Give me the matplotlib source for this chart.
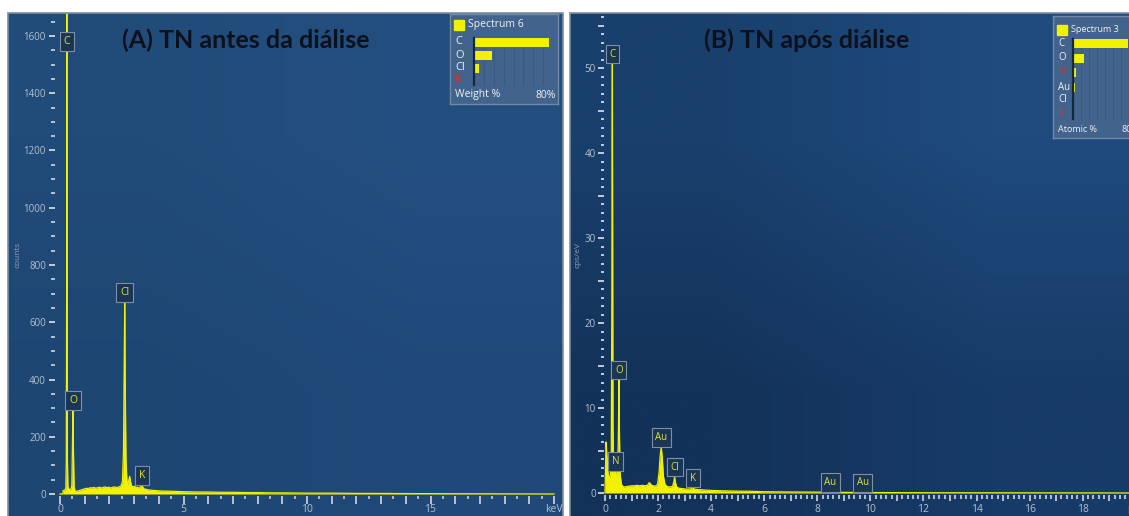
import numpy as np
import matplotlib
matplotlib.use("Agg")
import matplotlib.pyplot as plt
from matplotlib.patches import Rectangle
from matplotlib.ticker import FixedLocator, FuncFormatter
import matplotlib.transforms as mtransforms

# ---------------- data ----------------
title_a = "(A) TN antes da diálise"
title_b = "(B) TN após diálise"

# Panel A spectrum (keV, counts)
energy_a = [0.00, 0.11, 0.13, 0.20, 0.235, 0.255, 0.268, 0.277, 0.286, 0.30,
            0.32, 0.36, 0.40, 0.44, 0.48, 0.505, 0.525, 0.545, 0.57, 0.62,
            0.70, 0.78, 0.85, 0.92, 1.00, 1.08, 1.15, 1.22, 1.30, 1.38,
            1.45, 1.52, 1.60, 1.68, 1.75, 1.82, 1.90, 1.98, 2.05, 2.12,
            2.20, 2.28, 2.35, 2.42, 2.48, 2.53, 2.57, 2.60, 2.62, 2.64,
            2.67, 2.71, 2.75, 2.79, 2.82, 2.85, 2.90, 2.96, 3.02, 3.08,
            3.14, 3.20, 3.26, 3.31, 3.36, 3.42, 3.50, 3.60, 3.70, 3.85,
            4.00, 4.20, 4.40, 4.70, 5.00, 5.50, 6.00, 6.50, 7.00, 7.50,
            8.00, 8.50, 9.00, 10.0, 11.0, 12.0, 13.0, 14.0, 16.0, 20.0]
counts_a = [0, 0, 12, 14, 20, 120, 700, 1800, 700, 120,
            25, 18, 15, 16, 30, 180, 293, 150, 25, 8,
            10, 12, 14, 16, 18, 20, 19, 22, 21, 23,
            20, 22, 24, 21, 23, 25, 22, 24, 21, 23,
            25, 22, 24, 26, 30, 45, 150, 450, 670, 400,
            120, 45, 35, 50, 62, 45, 28, 25, 27, 22,
            24, 20, 25, 32, 22, 17, 16, 14, 13, 12,
            11, 10, 10, 9, 8, 7, 7, 6, 6, 5,
            5, 4, 4, 3, 3, 2, 2, 1.5, 1, 0]
peak_labels_a = ["C", "O", "Cl", "K"]
peak_energy_a = [0.277, 0.525, 2.62, 3.31]
legend_elements_a = ["C", "O", "Cl", "K"]
legend_values_a = [76, 18, 5.5, 0.5]

# Panel B spectrum (keV, cps/eV)
energy_b = [0.00, 0.02, 0.04, 0.06, 0.09, 0.12, 0.16, 0.20, 0.235, 0.255,
            0.268, 0.277, 0.286, 0.30, 0.32, 0.35, 0.39, 0.43, 0.47, 0.50,
            0.525, 0.545, 0.57, 0.62, 0.70, 0.80, 0.90, 1.00, 1.10, 1.20,
            1.30, 1.40, 1.50, 1.60, 1.66, 1.70, 1.75, 1.82, 1.90, 1.98,
            2.04, 2.08, 2.12, 2.16, 2.20, 2.26, 2.35, 2.45, 2.55, 2.60,
            2.62, 2.65, 2.70, 2.80, 2.95, 3.10, 3.25, 3.31, 3.38, 3.50,
            3.75, 4.00, 4.50, 5.00, 5.50, 6.00, 7.00, 8.00, 9.00, 10.0,
            12.0, 15.0, 20.0]
counts_b = [0, 3.0, 6.0, 5.0, 3.5, 2.2, 1.8, 2.0, 4.0, 20,
            42, 50.5, 35, 8, 3.5, 2.4, 2.6, 2.2, 2.3, 6,
            13.3, 7, 2.2, 1.0, 0.7, 0.75, 0.8, 0.85, 0.85, 0.9,
            0.85, 0.9, 0.85, 0.9, 1.2, 1.15, 0.9, 0.85, 0.8, 1.0,
            2.5, 4.5, 5.4, 4.0, 2.0, 1.0, 0.75, 0.7, 0.8, 1.4,
            1.9, 1.3, 0.7, 0.55, 0.5, 0.45, 0.5, 0.6, 0.45, 0.4,
            0.35, 0.3, 0.25, 0.22, 0.2, 0.15, 0.12, 0.1, 0.07, 0.05,
            0.03, 0.02, 0]
peak_labels_b = ["C", "N", "O", "Au", "Cl", "K", "Au", "Au"]
peak_energy_b = [0.277, 0.392, 0.525, 2.12, 2.62, 3.31, 8.49, 9.71]
legend_elements_b = ["C", "O", "N", "Au", "Cl", "K"]
legend_values_b = [69, 14, 4, 2, 1.5, 0.3]

# ---------------- style ----------------
W, H = 1129, 516
YEL = "#f2f200"
TICK = "#c3ccd8"
LBL = "#b4c0ce"
SMALL = "Open Sans"

fig = plt.figure(figsize=(W / 100, H / 100), dpi=100)
fig.patch.set_facecolor("white")


def px_axes(x0, y0, x1, y1):
    return fig.add_axes([x0 / W, 1 - y1 / H, (x1 - x0) / W, (y1 - y0) / H])


def gradient_bg(ax, tl, tr, bl, br):
    c = np.array([[matplotlib.colors.to_rgb(tl), matplotlib.colors.to_rgb(tr)],
                  [matplotlib.colors.to_rgb(bl), matplotlib.colors.to_rgb(br)]])
    ax.imshow(c, extent=(0, 1, 0, 1), transform=ax.transAxes, aspect="auto",
              interpolation="bilinear", zorder=0)


def setup_panel(ax, box, x0px, xscale, y0px, yscale, yaxis_px, xaxis_px):
    (bx0, by0, bx1, by1) = box
    ax.set_xlim((bx0 - x0px) / xscale, (bx1 - x0px) / xscale)
    ax.set_ylim((y0px - by1) / yscale, (y0px - by0) / yscale)
    for s in ax.spines.values():
        s.set_color("none")
    ax.spines["left"].set_position(("data", (yaxis_px - x0px) / xscale))
    ax.spines["bottom"].set_position(("data", (y0px - xaxis_px) / yscale))
    ax.add_patch(Rectangle((0, 0), 1, 1, transform=ax.transAxes, fill=False,
                           ec="#7d8ea3", lw=1.2, clip_on=False, zorder=5))


def spectrum(ax, e, c):
    ax.fill_between(e, c, 0, color=YEL, lw=0, zorder=2)
    ax.plot(e, c, color=YEL, lw=0.9, zorder=2)


def peak_boxes(ax, labels, energies, e, c, cap, fs):
    for lab, en in zip(labels, energies):
        yv = min(np.interp(en, e, c), cap)
        ax.annotate(lab, xy=(en, yv), xytext=(0, 3), textcoords="offset points",
                    ha="center", va="bottom", fontsize=fs, color="#dce63a",
                    family=SMALL,
                    bbox=dict(boxstyle="square,pad=0.38", fc="#1b3554",
                              ec="#7f90a5", lw=0.8), zorder=4)


def set_tick_lengths(ticks, rule):
    for t in ticks:
        L = rule(t.get_loc())
        if L is not None:
            t.tick1line.set_markersize(L)


# ---------------- Panel A ----------------
boxA = (8, 13, 563, 518)
axA = px_axes(*boxA)
gradient_bg(axA, "#214b79", "#234f80", "#1e4673", "#20497a")
setup_panel(axA, boxA, 60, 24.7, 494, 0.28625, 55, 496)
spectrum(axA, energy_a, counts_a)

axA.yaxis.set_major_locator(FixedLocator(np.arange(0, 1601, 200)))
axA.yaxis.set_minor_locator(FixedLocator(np.arange(0, 1700, 50)))
axA.xaxis.set_major_locator(FixedLocator(np.arange(0, 20.5, 1)))
axA.xaxis.set_minor_locator(FixedLocator(np.arange(0, 20.5, 0.5)))
axA.xaxis.set_major_formatter(FuncFormatter(
    lambda v, p: ("keV" if abs(v - 20) < 1e-6 else
                  (f"{v:.0f}" if abs(v % 5) < 1e-6 else ""))))
axA.tick_params(axis="y", which="major", direction="out", length=4.5, width=1.4,
                color=TICK, labelcolor=LBL, labelsize=7, pad=2)
axA.tick_params(axis="y", which="minor", direction="out", length=3.2, width=1.3,
                color=TICK)
axA.tick_params(axis="x", which="major", direction="out", length=3.8, width=1.3,
                color=TICK, labelcolor=LBL, labelsize=7.5, pad=2)
axA.tick_params(axis="x", which="minor", direction="out", length=2.2, width=1.2,
                color=TICK)
set_tick_lengths(axA.xaxis.get_major_ticks(),
                 lambda v: 6.0 if abs(v % 5) < 1e-6 else None)
for lab in axA.get_xticklabels() + axA.get_yticklabels():
    lab.set_family(SMALL)

axA.text((18 - 8) / 555, (518 - 255) / 505, "counts", transform=axA.transAxes,
         rotation=90, ha="center", va="center", fontsize=6, color="#8e9fb3",
         family=SMALL)
capA = axA.get_ylim()[1] - 0.075 * (axA.get_ylim()[1] - axA.get_ylim()[0])
peak_boxes(axA, peak_labels_a, peak_energy_a, energy_a, counts_a, capA, 7.5)
axA.text((246 - 8) / 555, (518 - 40) / 505, title_a, transform=axA.transAxes,
         ha="center", va="center", fontsize=18, fontweight="bold",
         color="#0b111c", family="Lato", zorder=6)

# ---------------- Panel B ----------------
boxB = (570, 13, 1134, 518)
axB = px_axes(*boxB)
gradient_bg(axB, "#19406d", "#1f4b7e", "#133259", "#173b68")
setup_panel(axB, boxB, 605, 26.54, 493, 8.5, 604, 495)
spectrum(axB, energy_b, counts_b)

axB.yaxis.set_major_locator(FixedLocator(np.arange(0, 56, 5)))
axB.yaxis.set_minor_locator(FixedLocator(np.arange(0, 57, 1)))
axB.yaxis.set_major_formatter(FuncFormatter(
    lambda v, p: f"{v:.0f}" if abs(v % 10) < 1e-6 else ""))
axB.xaxis.set_major_locator(FixedLocator(np.arange(0, 20.5, 1)))
axB.xaxis.set_minor_locator(FixedLocator(np.arange(0, 20.01, 0.2)))
axB.xaxis.set_major_formatter(FuncFormatter(
    lambda v, p: f"{v:.0f}" if abs(v % 2) < 1e-6 else ""))
axB.tick_params(axis="y", which="major", direction="out", length=4.0, width=1.4,
                color=TICK, labelcolor=LBL, labelsize=7, pad=2)
axB.tick_params(axis="y", which="minor", direction="out", length=2.4, width=1.4,
                color=TICK)
axB.tick_params(axis="x", which="major", direction="out", length=4.5, width=1.3,
                color=TICK, labelcolor=LBL, labelsize=7.5, pad=2)
axB.tick_params(axis="x", which="minor", direction="out", length=2.6, width=1.3,
                color=TICK)
set_tick_lengths(axB.yaxis.get_major_ticks(),
                 lambda v: 3.2 if abs(v % 10) > 1e-6 else None)
for lab in axB.get_xticklabels() + axB.get_yticklabels():
    lab.set_family(SMALL)
kev_tr = mtransforms.blended_transform_factory(axB.transData, axB.transAxes)
axB.text(20, (518 - 512) / 505, "keV", transform=kev_tr, ha="center",
         va="center", fontsize=7.5, color=LBL, family=SMALL, clip_on=False)

axB.text((578 - 570) / 564, (518 - 255) / 505, "cps/eV", transform=axB.transAxes,
         rotation=90, ha="center", va="center", fontsize=6, color="#8e9fb3",
         family=SMALL)
capB = axB.get_ylim()[1] - 0.075 * (axB.get_ylim()[1] - axB.get_ylim()[0])
peak_boxes(axB, peak_labels_b, peak_energy_b, energy_b, counts_b, capB, 7)
axB.text((807 - 570) / 564, (518 - 40) / 505, title_b, transform=axB.transAxes,
         ha="center", va="center", fontsize=18, fontweight="bold",
         color="#0b111c", family="Lato", zorder=6)


# ---------------- legends ----------------
def legend_panel(box, bar0_px, full_px, row_tops, header_y, footer_y, header,
                 footer, elements, values, red, fs, bar_h):
    bx0, by0, bx1, by1 = box
    lg = px_axes(*box)
    w, h = bx1 - bx0, by1 - by0
    sc = (full_px - bar0_px) / 80.0
    lg.set_xlim(-(bar0_px - bx0) / sc, (bx1 - bar0_px) / sc)
    lg.set_ylim(h, 0)
    lg.set_facecolor("#42638b")
    for s in lg.spines.values():
        s.set_color("#7189a7")
        s.set_linewidth(1.0)
    lg.set_xticks([])
    lg.set_yticks([])
    ys = np.array(row_tops) - by0
    for g in np.arange(10, 80, 10):
        lg.plot([g, g], [ys[0] - bar_h / 2, ys[-1] + bar_h / 2], color="#385a80",
                lw=0.8, zorder=1)
    lg.barh(ys, values, height=bar_h, left=0, color=YEL, zorder=2)
    lg.plot([0, 0], [ys[0] - bar_h / 2, ys[-1] + bar_h / 2], color="#17283c",
            lw=1.6, zorder=3)
    tr = mtransforms.blended_transform_factory(lg.transAxes, lg.transData)
    lx = lambda px: (px - bx0) / w
    for el, yv in zip(elements, ys):
        lg.text(lx(bx0 + 5), yv, el, transform=tr, ha="left", va="center",
                fontsize=fs, color=("#e0302c" if el in red else "#eef2f7"),
                family=SMALL)
    sq = 0.85 * bar_h + 2
    lg.add_patch(Rectangle((lx(bx0 + 4), header_y - by0 - sq / 2), sq / w, sq,
                           transform=tr, color=YEL, zorder=3))
    lg.text(lx(bx0 + 4) + sq / w + 4 / w, header_y - by0, header, transform=tr,
            ha="left", va="center", fontsize=fs - 0.5, color="#eef2f7",
            family=SMALL)
    lg.text(lx(bx0 + 5), footer_y - by0, footer, transform=tr, ha="left",
            va="center", fontsize=fs - 0.5, color="#eef2f7", family=SMALL)
    lg.text(lx(full_px + 3), footer_y - by0, "80%", transform=tr, ha="right",
            va="center", fontsize=fs - 0.5, color="#eef2f7", family=SMALL)
    return lg


legend_panel((450, 14, 558, 104), 474, 553, [42, 55, 68, 80], 25, 95,
             "Spectrum 6", "Weight %", legend_elements_a, legend_values_a,
             ["K"], 8, 9)
legend_panel((1053, 16, 1142, 138), 1073, 1137, [43, 58, 72, 87, 100, 114], 30,
             129, "Spectrum 3", "Atomic %", legend_elements_b, legend_values_b,
             ["N", "K"], 7, 9)

fig.savefig("out.png", dpi=100, facecolor="white")
